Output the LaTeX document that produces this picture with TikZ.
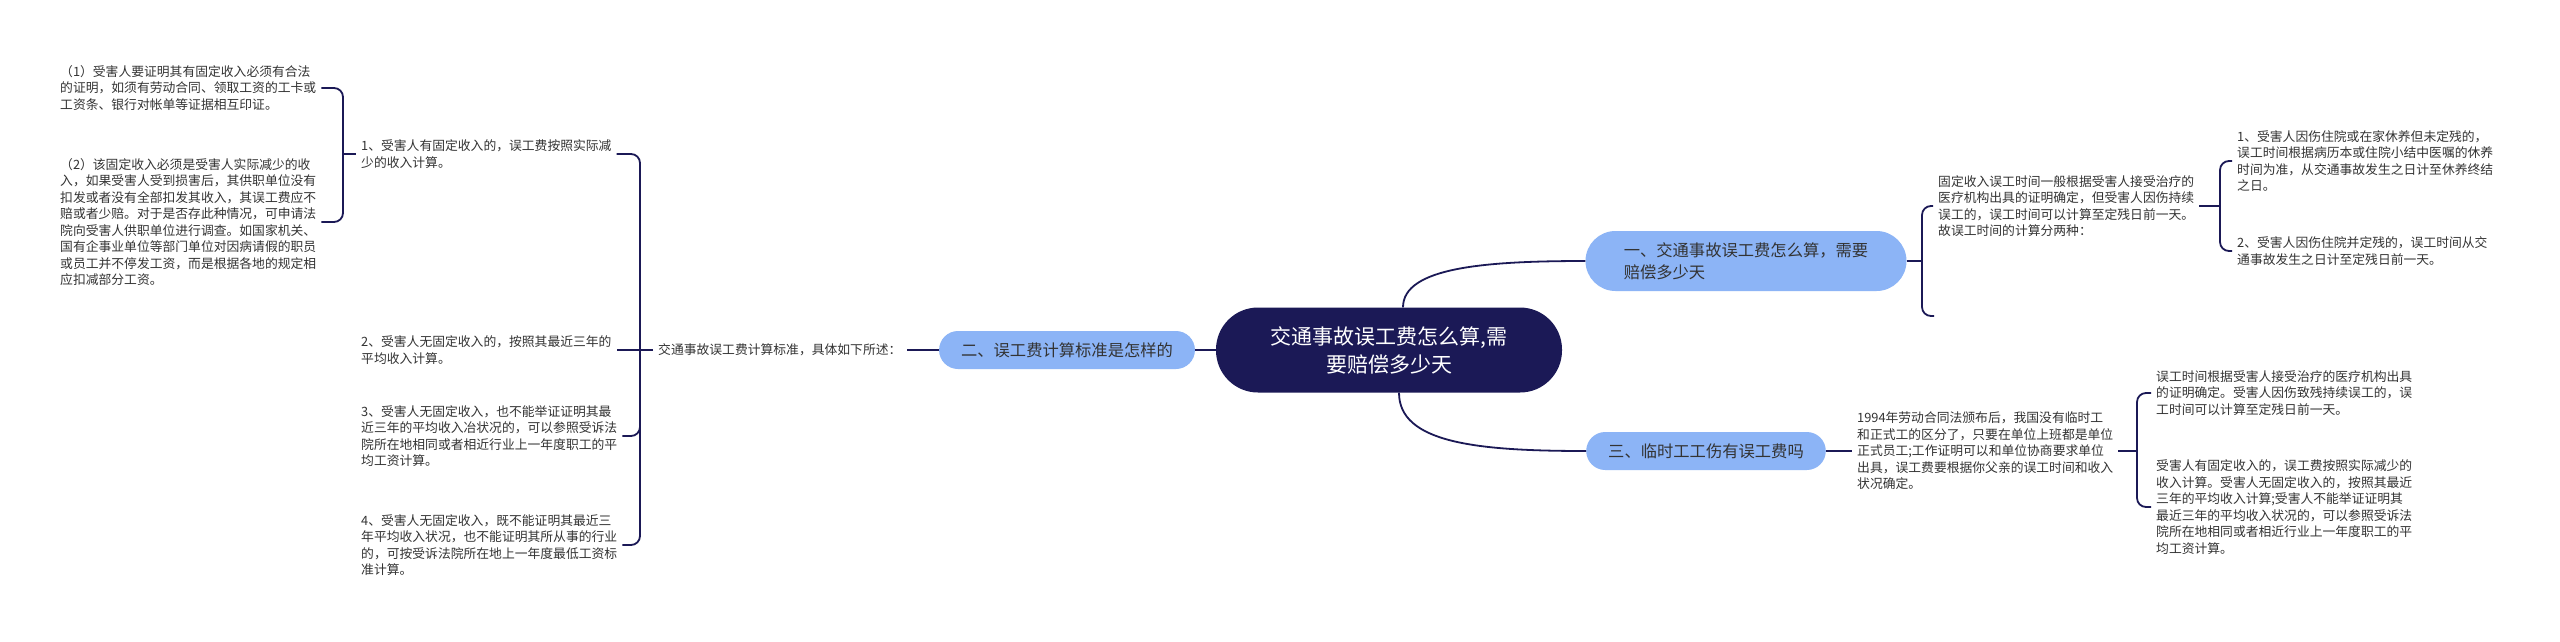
\documentclass[tikz,border=0pt]{standalone}
\usepackage{fontspec}
\setmainfont{Noto Sans CJK SC}
\usepackage{xcolor}
\usepackage{tikz}
\usetikzlibrary{positioning}

\definecolor{navy}{RGB}{27,25,86}
\definecolor{sky}{RGB}{140,180,246}
\definecolor{ink}{RGB}{51,51,51}

\begin{document}
\begin{tikzpicture}[
  x=1pt, y=-1pt,
  root/.style={rectangle, rounded corners=42pt, fill=navy, text=white, minimum width=346pt, minimum height=85pt, align=center, font=\fontsize{21}{28}\selectfont},
  topic/.style={rectangle, rounded corners=19pt, fill=sky, text=ink, minimum height=38pt, inner xsep=22pt, font=\fontsize{16.3}{22}\selectfont},
  note/.style={inner sep=5pt, align=left, text=ink, anchor=west, font=\fontsize{12.8}{16.5}\selectfont},
  link/.style={draw=navy, line width=1.8pt, rounded corners=9pt},
]
  \fill[white] (0,0) rectangle (2560,641);
  \useasboundingbox (0,0) rectangle (2560,641);

  % centre and main topics
  \node[root] (root) at (1389,350) {交通事故误工费怎么算,需\\要赔偿多少天};
  \node[topic, minimum width=321pt, minimum height=60pt, rounded corners=30pt, align=left] (howmany) at (1746,261) {一、交通事故误工费怎么算，需要\\赔偿多少天};
  \node[topic] (standard) at (1067,350) {二、误工费计算标准是怎样的};
  \node[topic] (temp) at (1706,451) {三、临时工工伤有误工费吗};

  % left side
  \node[note] (rule) at (653,350) {交通事故误工费计算标准，具体如下所述：};
  \node[note] (fixed) at (356,154) {1、受害人有固定收入的，误工费按照实际减\\少的收入计算。};
  \node[note] (nofixed) at (356,350) {2、受害人无固定收入的，按照其最近三年的\\平均收入计算。};
  \node[note] (noproof) at (356,436) {3、受害人无固定收入，也不能举证证明其最\\近三年的平均收入冶状况的，可以参照受诉法\\院所在地相同或者相近行业上一年度职工的平\\均工资计算。};
  \node[note] (lowest) at (356,545) {4、受害人无固定收入，既不能证明其最近三\\年平均收入状况，也不能证明其所从事的行业\\的，可按受诉法院所在地上一年度最低工资标\\准计算。};
  \node[note] (proof) at (55,88) {（1）受害人要证明其有固定收入必须有合法\\的证明，如须有劳动合同、领取工资的工卡或\\工资条、银行对帐单等证据相互印证。};
  \node[note] (reduce) at (55,222) {（2）该固定收入必须是受害人实际减少的收\\入，如果受害人受到损害后，其供职单位没有\\扣发或者没有全部扣发其收入，其误工费应不\\赔或者少赔。对于是否存此种情况，可申请法\\院向受害人供职单位进行调查。如国家机关、\\国有企事业单位等部门单位对因病请假的职员\\或员工并不停发工资，而是根据各地的规定相\\应扣减部分工资。};

  % right side
  \node[note] (period) at (1933,206) {固定收入误工时间一般根据受害人接受治疗的\\医疗机构出具的证明确定，但受害人因伤持续\\误工的，误工时间可以计算至定残日前一天。\\故误工时间的计算分两种：};
  \node[note] (rest) at (2232,161) {1、受害人因伤住院或在家休养但未定残的，\\误工时间根据病历本或住院小结中医嘱的休养\\时间为准，从交通事故发生之日计至休养终结\\之日。};
  \node[note] (disabled) at (2232,251) {2、受害人因伤住院并定残的，误工时间从交\\通事故发生之日计至定残日前一天。};
  \node[note] (law) at (1852,451) {1994年劳动合同法颁布后，我国没有临时工\\和正式工的区分了，只要在单位上班都是单位\\正式员工;工作证明可以和单位协商要求单位\\出具，误工费要根据你父亲的误工时间和收入\\状况确定。};
  \node[note] (time) at (2151,393) {误工时间根据受害人接受治疗的医疗机构出具\\的证明确定。受害人因伤致残持续误工的，误\\工时间可以计算至定残日前一天。};
  \node[note] (income) at (2151,507) {受害人有固定收入的，误工费按照实际减少的\\收入计算。受害人无固定收入的，按照其最近\\三年的平均收入计算;受害人不能举证证明其\\最近三年的平均收入状况的，可以参照受诉法\\院所在地相同或者相近行业上一年度职工的平\\均工资计算。};

  % bracket joints
  \coordinate (ba) at (640,350);
  \coordinate (bb) at (343,154);
  \coordinate (bc) at (1922,261);
  \coordinate (cfree) at (1934,316);
  \coordinate (bd) at (2220,206);
  \coordinate (bf) at (2137,451);
  \coordinate (j3) at (640,420);

  % connectors
  \draw[link] ([xshift=14pt]root.north) .. controls +(0,-40) and +(-100,0) .. (howmany.west);
  \draw[link] ([xshift=10pt]root.south) .. controls +(0,50) and +(-110,0) .. (temp.west);
  \draw[link] (root.west) -- (standard.east);
  \draw[link] (standard.west) -- (rule.east);

  \draw[link] (rule.west) -- (ba) -- (nofixed.east);
  \draw[link] (fixed.east) -| (ba) |- (lowest.east);
  \draw[link] (j3) |- (noproof.east);
  \draw[link] (proof.east) -| (bb) |- (reduce.east);
  \draw[link] (bb) -- (fixed.west);

  \draw[link] (howmany.east) -- (bc);
  \draw[link] (period.west) -| (bc) |- (cfree);
  \draw[link] (period.east) -- (bd);
  \draw[link] (rest.west) -| (bd) |- (disabled.west);

  \draw[link] (temp.east) -- (law.west);
  \draw[link] (law.east) -- (bf);
  \draw[link] (time.west) -| (bf) |- (income.west);
\end{tikzpicture}
\end{document}
